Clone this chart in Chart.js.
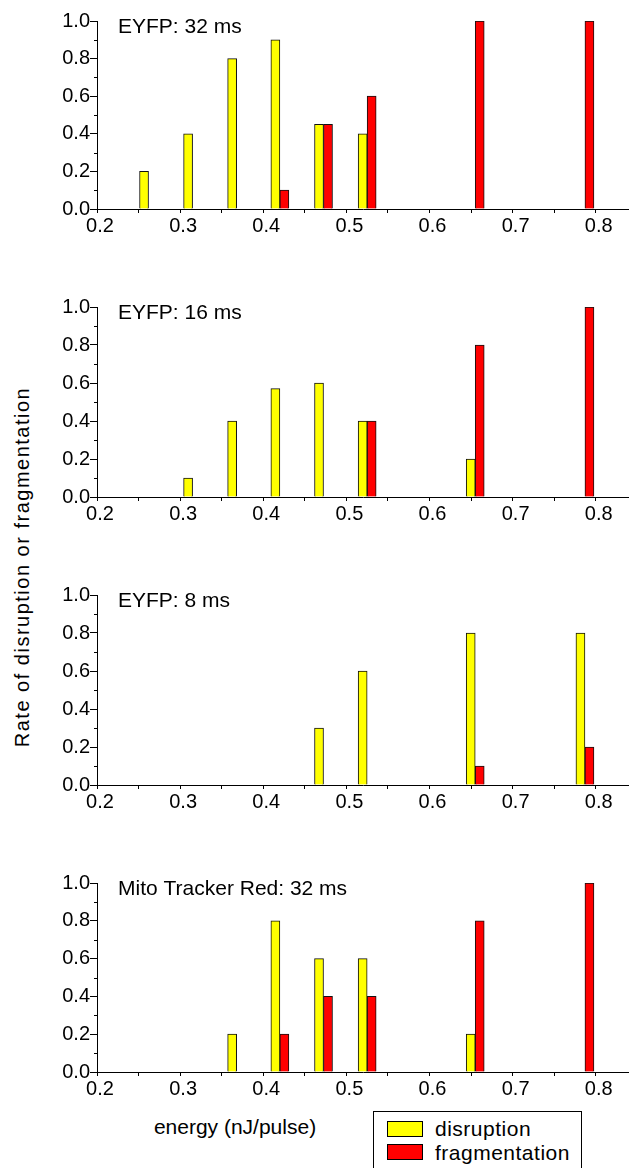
<!DOCTYPE html>
<html>
<head>
<meta charset="utf-8">
<script src="https://cdn.jsdelivr.net/npm/chart.js@4.4.1/dist/chart.umd.min.js"></script>
<style>
  html, body { margin: 0; padding: 0; background: #fff; overflow: hidden; }
  #page { position: relative; width: 629px; height: 1168px; font-family: "Liberation Sans", Arial, sans-serif; color: #000; }
  #page canvas { position: absolute; left: 0; }
  #ytitle { position: absolute; left: 22px; top: 567px; font-size: 20px; line-height: 20px; letter-spacing: 1.5px;
            white-space: nowrap; transform: translate(-50%, -50%) rotate(-90deg); }
  #xtitle { position: absolute; left: 235px; top: 1116px; font-size: 21px; line-height: 21px; white-space: nowrap;
            transform: translateX(-50%); }
  #legend { position: absolute; left: 373px; top: 1111px; width: 207px; height: 80px; border: 1px solid #000; background: #fff; }
  #legend .sw { position: absolute; left: 13px; width: 34px; height: 14px; border: 1px solid #000; }
  #legend .lt { position: absolute; left: 61px; font-size: 21px; line-height: 21px; letter-spacing: 0.5px; white-space: nowrap; }
</style>
</head>
<body>
<div id="page">
  <div id="ytitle">Rate of disruption or fragmentation</div>
  <div id="xtitle">energy (nJ/pulse)</div>
  <div id="legend">
    <span class="sw" id="sw0" style="top:9px"></span><span class="lt" style="top:6px">disruption</span>
    <span class="sw" id="sw1" style="top:32px"></span><span class="lt" style="top:30px">fragmentation</span>
  </div>
</div>
<script>
// energy (nJ/pulse) of each measured group
const energies = [0.262, 0.315, 0.368, 0.42, 0.4725, 0.525, 0.655, 0.787];

const panelTitles = ['EYFP: 32 ms', 'EYFP: 16 ms', 'EYFP: 8 ms', 'Mito Tracker Red: 32 ms'];

// rates, null = no bar
const disruption32 = [0.2, 0.4, 0.8, 0.9, 0.45, 0.4, null, null];
const fragmentation32 = [null, null, null, 0.1, 0.45, 0.6, 1.0, 1.0];
const disruption16 = [null, 0.1, 0.4, 0.57, 0.6, 0.4, 0.2, null];
const fragmentation16 = [null, null, null, null, null, 0.4, 0.8, 1.0];
const disruption8 = [null, null, null, null, 0.3, 0.6, 0.8, 0.8];
const fragmentation8 = [null, null, null, null, null, null, 0.1, 0.2];
const disruptionMito = [null, null, 0.2, 0.8, 0.6, 0.6, 0.2, null];
const fragmentationMito = [null, null, null, 0.2, 0.4, 0.4, 0.8, 1.0];

const xTickValues = [0.2, 0.25, 0.3, 0.35, 0.4, 0.45, 0.5, 0.55, 0.6, 0.65, 0.7, 0.75, 0.8];
const yTickValues = [0, 0.2, 0.4, 0.6, 0.8, 1.0];
const yMinorTicks = [0.1, 0.3, 0.5, 0.7, 0.9];

const seriesNames = ['disruption', 'fragmentation'];
const YELLOW = '#ffff00';
const RED = '#ff0000';

const panels = [
  { title: panelTitles[0], d: disruption32, f: fragmentation32 },
  { title: panelTitles[1], d: disruption16, f: fragmentation16 },
  { title: panelTitles[2], d: disruption8, f: fragmentation8 },
  { title: panelTitles[3], d: disruptionMito, f: fragmentationMito }
];

// layout of the four plots (top of plot area and its height, px)
const plotTops = [21, 307, 595, 883];
const plotHeights = [188, 190, 190, 189];
const PAD_TOP = 12, X_AXIS_H = 30, Y_AXIS_W = 97;
const FONT = '"Liberation Sans", Arial, sans-serif';

document.getElementById('sw0').style.background = YELLOW;
document.getElementById('sw1').style.background = RED;

// minor y ticks + panel caption
const panelDecor = {
  id: 'panelDecor',
  afterDraw(chart, args, opts) {
    const { ctx, chartArea } = chart;
    const y = chart.scales.y;
    ctx.save();
    ctx.strokeStyle = '#000';
    ctx.lineWidth = 1;
    ctx.beginPath();
    yMinorTicks.forEach(v => {
      const py = Math.round(y.getPixelForValue(v)) + 0.5;
      ctx.moveTo(chartArea.left - 3, py);
      ctx.lineTo(chartArea.left, py);
    });
    ctx.stroke();
    ctx.fillStyle = '#000';
    ctx.font = '21px ' + FONT;
    ctx.textBaseline = 'alphabetic';
    ctx.fillText(opts.text, chartArea.left + 21, chartArea.top + 12);
    ctx.restore();
  }
};

function toPoints(values) {
  return energies.map((x, i) => ({ x, y: values[i] }));
}

function makePanel(p, i) {
  const canvas = document.createElement('canvas');
  canvas.width = 629;
  canvas.height = PAD_TOP + plotHeights[i] + X_AXIS_H;
  canvas.style.top = (plotTops[i] - PAD_TOP) + 'px';
  document.getElementById('page').appendChild(canvas);

  return new Chart(canvas.getContext('2d'), {
    type: 'bar',
    data: {
      datasets: [
        { label: seriesNames[0], data: toPoints(p.d), backgroundColor: YELLOW, borderColor: '#111', borderWidth: 1, borderSkipped: 'start' },
        { label: seriesNames[1], data: toPoints(p.f), backgroundColor: RED, borderColor: '#111', borderWidth: 1, borderSkipped: 'start' }
      ]
    },
    options: {
      responsive: false,
      animation: false,
      barThickness: 9,
      layout: { padding: { top: PAD_TOP, left: 0, right: 0, bottom: 0 } },
      plugins: {
        legend: { display: false },
        tooltip: { enabled: false },
        panelDecor: { text: p.title }
      },
      scales: {
        x: {
          type: 'linear',
          min: 0.2,
          max: 0.84,
          offset: false,
          afterBuildTicks: s => { s.ticks = xTickValues.map(v => ({ value: v })); },
          afterFit: s => { s.height = X_AXIS_H; },
          ticks: {
            autoSkip: false,
            maxRotation: 0,
            padding: 1,
            labelOffset: 3,
            color: '#000',
            font: { family: FONT, size: 20 },
            callback: (v, idx) => idx % 2 === 0 ? Number(v).toFixed(1) : ''
          },
          grid: { offset: false, drawOnChartArea: false, drawTicks: true, tickLength: 4, tickColor: '#000', color: '#000' },
          border: { display: true, color: '#000', width: 1 }
        },
        y: {
          min: 0,
          max: 1.0,
          afterBuildTicks: s => { s.ticks = yTickValues.map(v => ({ value: v })); },
          afterFit: s => { s.width = Y_AXIS_W; },
          ticks: {
            padding: 0,
            color: '#000',
            font: { family: FONT, size: 20 },
            callback: v => Number(v).toFixed(1)
          },
          grid: { drawOnChartArea: false, drawTicks: true, tickLength: 7, tickColor: '#000', color: '#000' },
          border: { display: true, color: '#000', width: 1 }
        }
      }
    },
    plugins: [panelDecor]
  });
}

panels.forEach(makePanel);
</script>
</body>
</html>
